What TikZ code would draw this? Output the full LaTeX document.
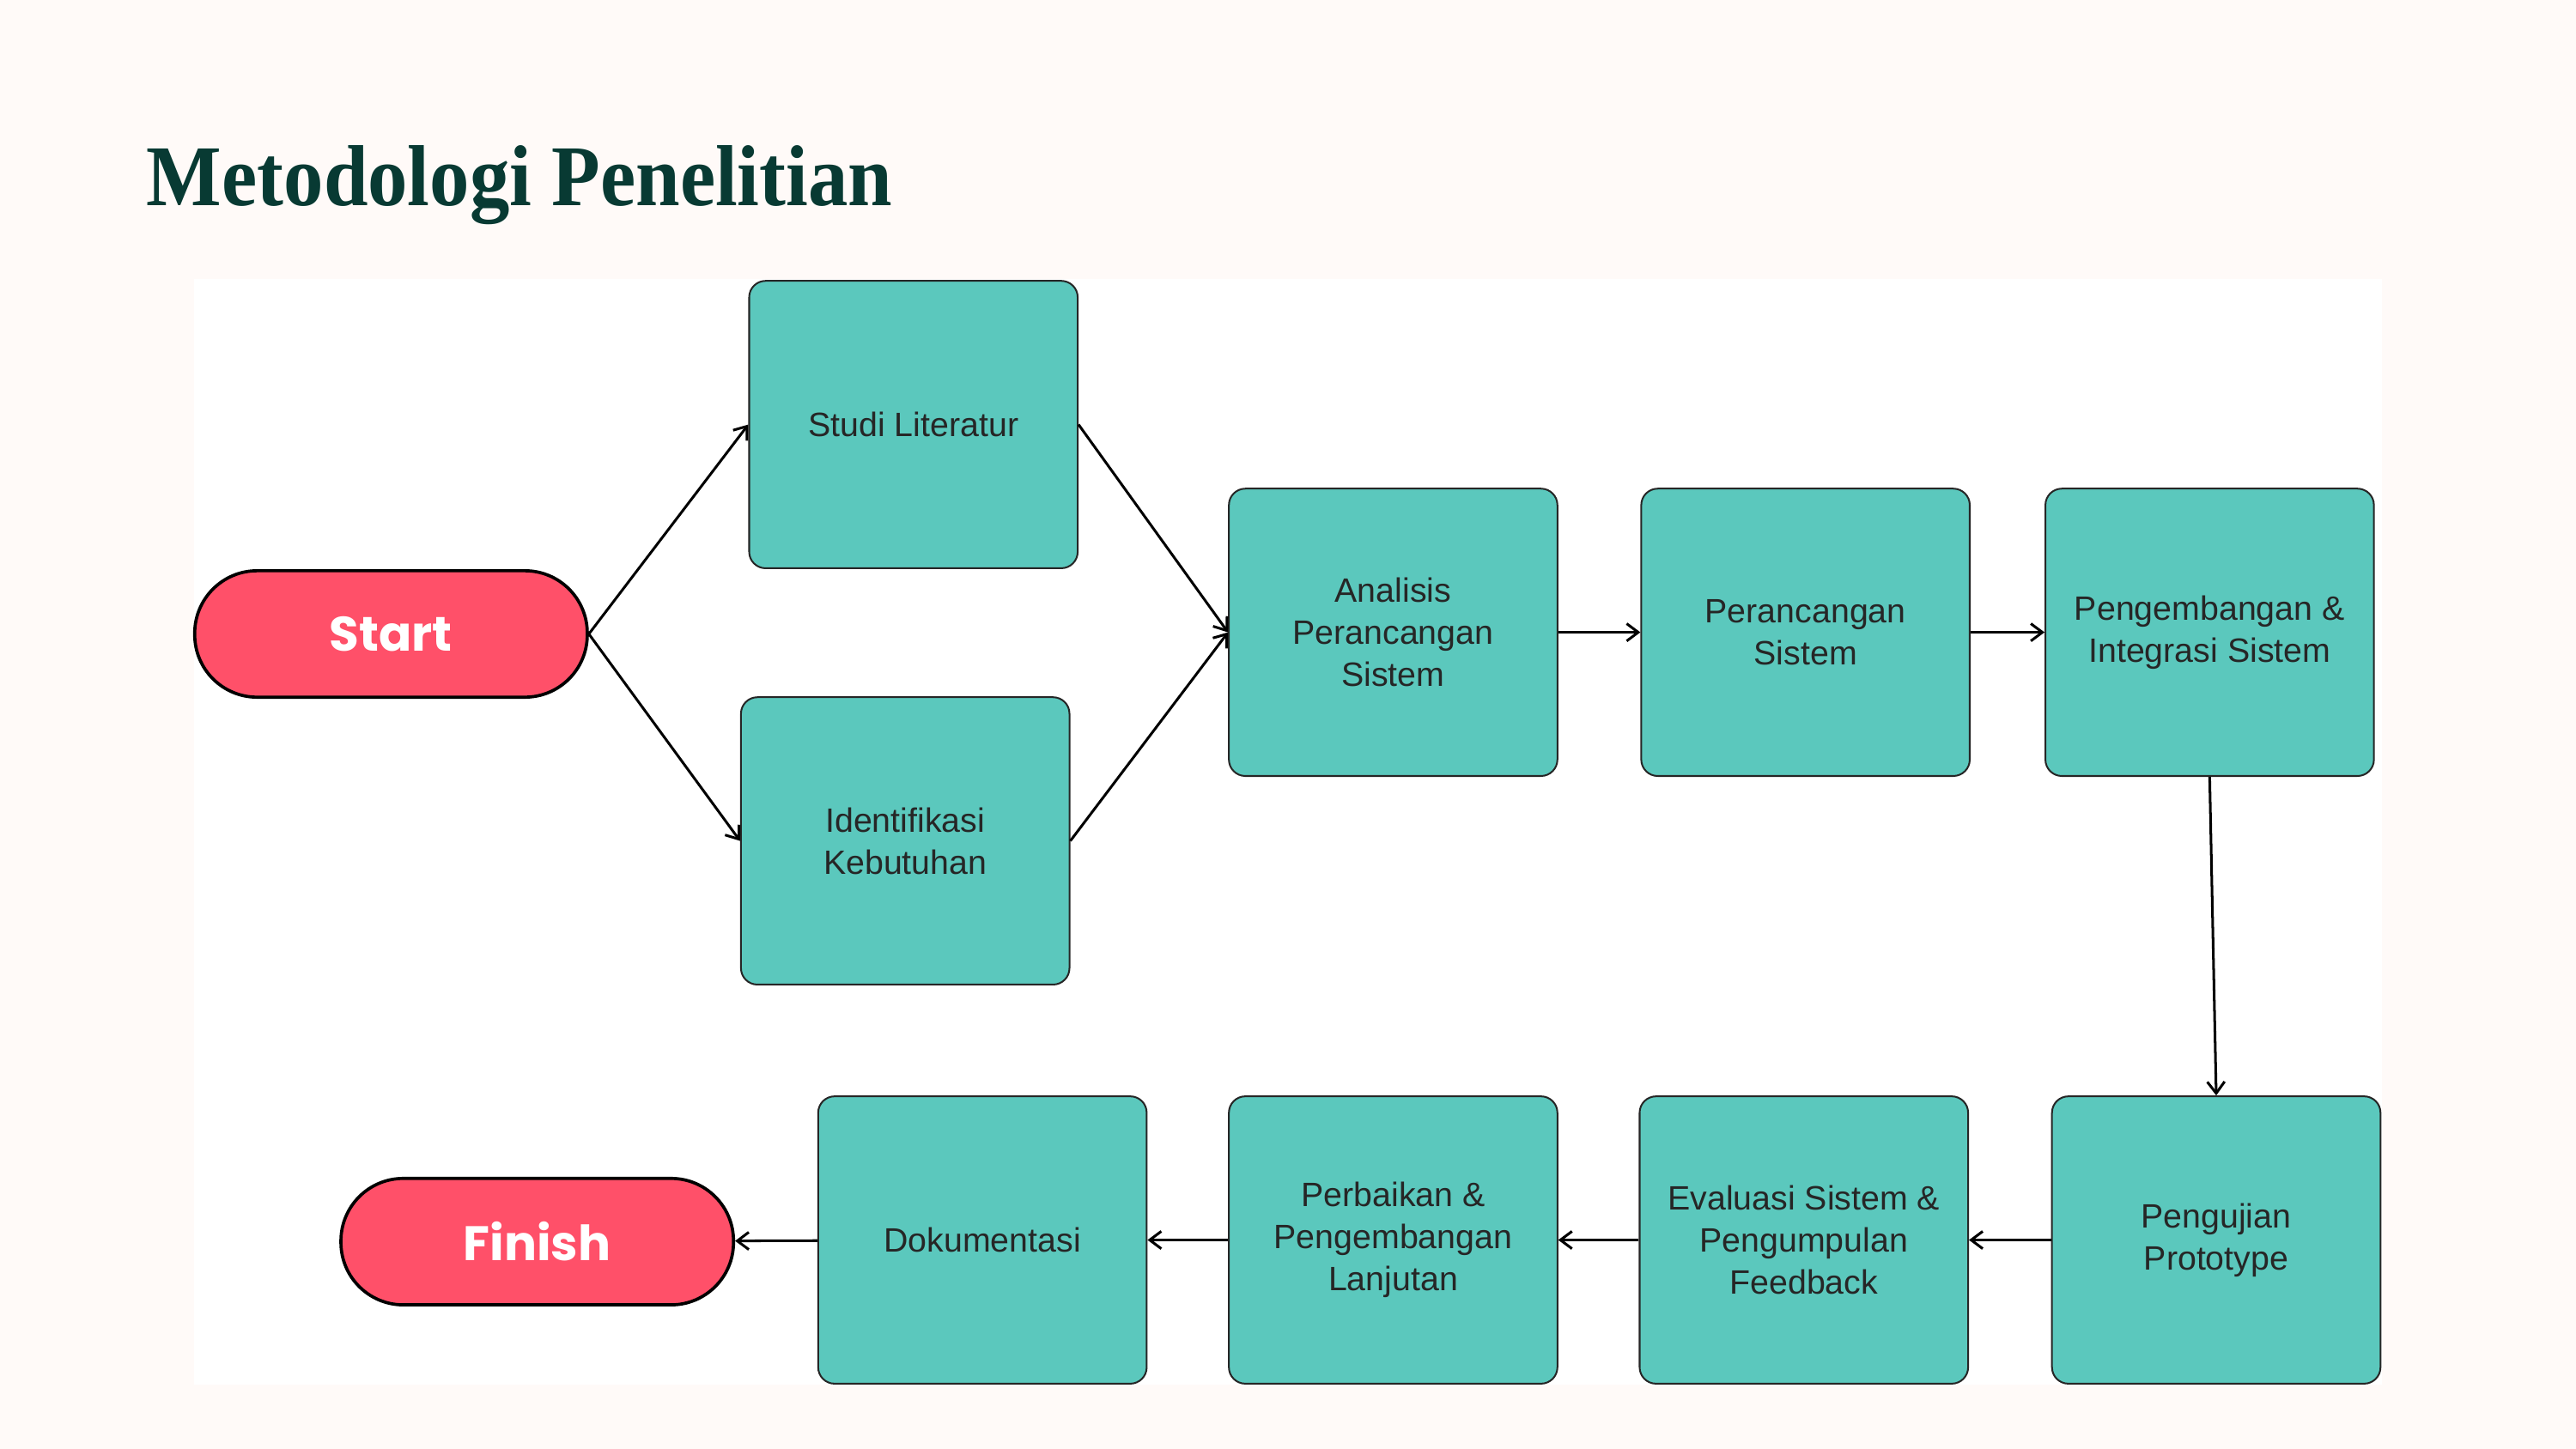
\documentclass[tikz,border=0pt]{standalone}
\usepackage{fontspec}
\setmainfont{Liberation Sans}
\newfontfamily\titlefont[FakeStretch=0.92]{Liberation Serif}
\newfontfamily\pillfont{Poppins}
\usepackage{xcolor}
\usetikzlibrary{arrows.meta, positioning}

\definecolor{pagebg}{HTML}{FFFAF8}
\definecolor{titlegreen}{HTML}{083A33}
\definecolor{stepteal}{HTML}{5BC8BD}
\definecolor{pillred}{HTML}{FF5069}

\begin{document}
\begin{tikzpicture}[
    x=0.02cm, y=-0.02cm,
    stepbox/.style={rectangle, rounded corners=0.2cm, draw=black!85, fill=stepteal, line width=0.6pt,
        minimum width=4cm, minimum height=3.5cm, align=center, text=black!85,
        font=\fontsize{11.7}{14.5}\selectfont},
    pill/.style={rectangle, rounded corners=0.76cm, draw=black, fill=pillred, line width=1.1pt,
        minimum width=4.78cm, minimum height=1.54cm, text=white, font=\pillfont\bfseries\fontsize{16.8}{18}\selectfont},
    arrow/.style={-{Straight Barb[length=4pt, width=6pt]}, line width=0.9pt, black}
]
% background and panel
\useasboundingbox[fill=pagebg] (0,0) rectangle (1568,882);
\fill[white] (118,170) rectangle (1450,843);

\node[anchor=base west, inner sep=0, text=titlegreen, font=\titlefont\bfseries\fontsize{30}{34}\selectfont]
    (title) at (89,125) {Metodologi Penelitian};

% top row
\node[pill] (start) at (238,386) {Start};
\node[stepbox] (studi) at (556,258.5) {Studi Literatur};
\node[stepbox] (ident) at (551,512) {Identifikasi\\Kebutuhan};
\node[stepbox] (analisis) at (848,385) {Analisis\\Perancangan\\Sistem};
\node[stepbox] (rancang) at (1099,385) {Perancangan\\Sistem};
\node[stepbox] (kembang) at (1345,385) {Pengembangan \&\\Integrasi Sistem};

% bottom row
\node[stepbox] (uji) at (1349,755) {Pengujian\\Prototype};
\node[stepbox] (evaluasi) at (1098,755) {Evaluasi Sistem \&\\Pengumpulan\\Feedback};
\node[stepbox] (perbaikan) at (848,755) {Perbaikan \&\\Pengembangan\\Lanjutan};
\node[stepbox] (dokumen) at (598,755) {Dokumentasi};
\node[pill] (finish) at (327,756) {Finish};

% connectors
\draw[arrow] (start.east) -- (studi.west);
\draw[arrow] (start.east) -- (ident.west);
\draw[arrow] (studi.east) -- (analisis.west);
\draw[arrow] (ident.east) -- (analisis.west);
\draw[arrow] (analisis) -- (rancang);
\draw[arrow] (rancang) -- (kembang);
\draw[arrow] (kembang.south) -- (uji.north);
\draw[arrow] (uji) -- (evaluasi);
\draw[arrow] (evaluasi) -- (perbaikan);
\draw[arrow] (perbaikan) -- (dokumen);
\draw[arrow] (dokumen) -- (finish);
\end{tikzpicture}
\end{document}
